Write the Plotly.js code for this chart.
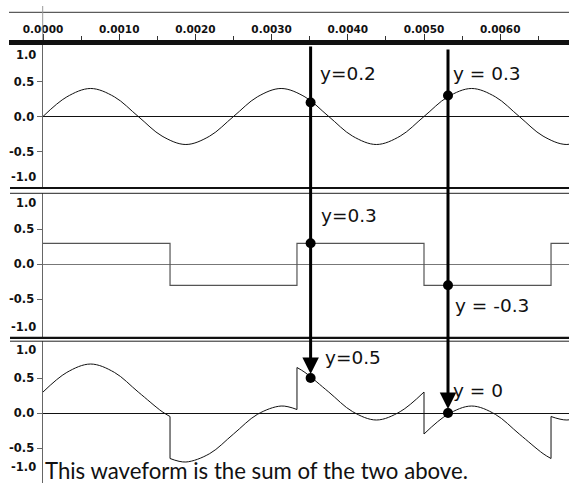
<!DOCTYPE html>
<html><head><meta charset="utf-8">
<script src="https://cdn.plot.ly/plotly-3.0.1.min.js"></script>
<style>html,body{margin:0;padding:0;background:#fff;}#chart{width:569px;height:483px;}</style>
</head><body><div id="chart"></div>
<script>
// ---------- data ----------
// top panel: sine wave (time in s, amplitude)
const sineT = [0, 0.0003125, 0.000625, 0.0009375, 0.00125, 0.0015625, 0.001875, 0.0021875,
  0.0025, 0.0028125, 0.003125, 0.0034375, 0.00375, 0.0040625, 0.004375, 0.0046875,
  0.005, 0.0053125, 0.005625, 0.0059375, 0.00625, 0.0065625, 0.006875, 0.0071875];
const sineY = [0, 0.28, 0.4, 0.28, 0, -0.28, -0.4, -0.28,
  0, 0.28, 0.4, 0.28, 0, -0.28, -0.4, -0.28,
  0, 0.28, 0.4, 0.28, 0, -0.28, -0.4, -0.28];
// middle panel: square wave (step points)
const squareT = [0, 0.001667, 0.003333, 0.005, 0.006667, 0.0072];
const squareY = [0.3, -0.3, 0.3, -0.3, 0.3, 0.3];
// bottom panel: sum, smooth pieces between the jumps
const sumT = [0, 0.0003125, 0.000625, 0.0009375, 0.00125, 0.0015625, 0.001667, null,
  0.001667, 0.001875, 0.0021875, 0.0025, 0.0028125, 0.003125, 0.003333, null,
  0.003333, 0.0034375, 0.00375, 0.0040625, 0.004375, 0.0046875, 0.005, null,
  0.005, 0.0053125, 0.005625, 0.0059375, 0.00625, 0.0065625, 0.006667, null,
  0.006667, 0.006875, 0.0071875];
const sumY = [0.3, 0.58, 0.7, 0.58, 0.3, 0.02, -0.05, null,
  -0.65, -0.7, -0.58, -0.3, -0.02, 0.1, 0.05, null,
  0.65, 0.58, 0.3, 0.02, -0.1, 0.02, 0.3, null,
  -0.3, -0.02, 0.1, -0.02, -0.3, -0.58, -0.65, null,
  -0.05, -0.1, -0.02];
// bottom panel: the jumps
const jumpT = [0.001667, 0.001667, null, 0.003333, 0.003333, null, 0.005, 0.005, null, 0.006667, 0.006667];
const jumpY = [-0.05, -0.65, null, 0.05, 0.65, null, 0.3, -0.3, null, -0.65, -0.05];
// probe points
const probeT = [0.003512, 0.005315];
const probeTop = [0.2, 0.3];
const probeMid = [0.3, -0.3];
const probeSum = [0.5, 0];
const probeTextTop = ['y=0.2', 'y = 0.3'];
const probeTextMid = ['y=0.3', 'y = -0.3'];
const probeTextSum = ['y=0.5', 'y = 0'];
// ticks
const xTickVals = [0, 0.001, 0.002, 0.003, 0.004, 0.005, 0.006];
const xTickText = ['0.0000', '0.0010', '0.0020', '0.0030', '0.0040', '0.0050', '0.0060'];
const yTickVals = [-0.5, 0, 0.5];
const yTickText = ['-0.5', '0.0', '0.5'];
const yEdgeText = ['1.0', '-1.0'];
const caption = 'This waveform is the sum of the two above.';

// ---------- layout helpers (pixels -> paper) ----------
const W = 569, H = 483, ML = 43, MT = 45;
const PW = W - ML, PH = H - MT;
const fx = p => (p - ML) / PW;
const fy = p => (H - p) / PH;

const xTickFont = {family: 'DejaVu Sans', size: 10.5, weight: 'bold', color: '#111'};
const tickFont = {family: 'DejaVu Sans', size: 11.5, weight: 'bold', color: '#111'};
const labFont = {family: 'DejaVu Sans', size: 18.5, color: '#111'};

const traces = [
  {x: sineT, y: sineY, xaxis: 'x', yaxis: 'y', mode: 'lines', line: {color: '#111', width: 1, shape: 'spline'}},
  {x: squareT, y: squareY, xaxis: 'x2', yaxis: 'y2', mode: 'lines', line: {color: '#555', width: 1.2, shape: 'hv'}},
  {x: sumT, y: sumY, xaxis: 'x3', yaxis: 'y3', mode: 'lines', connectgaps: false, line: {color: '#111', width: 1, shape: 'spline'}},
  {x: jumpT, y: jumpY, xaxis: 'x3', yaxis: 'y3', mode: 'lines', connectgaps: false, line: {color: '#111', width: 1}},
  {x: probeT, y: probeTop, xaxis: 'x', yaxis: 'y', mode: 'markers', marker: {color: '#000', size: 10}},
  {x: probeT, y: probeMid, xaxis: 'x2', yaxis: 'y2', mode: 'markers', marker: {color: '#000', size: 10}},
  {x: probeT, y: probeSum, xaxis: 'x3', yaxis: 'y3', mode: 'markers', marker: {color: '#000', size: 10}}
];

const xr = [0, (W - ML) / 76200];
const yBase = {
  showgrid: false, zeroline: true, zerolinecolor: '#111', zerolinewidth: 1,
  showline: true, linecolor: '#666', linewidth: 1.5,
  ticks: 'outside', ticklen: 5, tickcolor: '#666', tickwidth: 1,
  tickmode: 'array', tickvals: yTickVals, ticktext: yTickText, tickfont: tickFont
};
const xHidden = {range: xr, showgrid: false, zeroline: false, showline: false, showticklabels: false, ticks: ''};

const annotations = [];
// edge labels 1.0 / -1.0 for each panel
[[55, 177], [203, 327], [350, 467]].forEach(([t, b]) => {
  annotations.push({xref: 'paper', yref: 'paper', x: fx(38), y: fy(t), xanchor: 'right', yanchor: 'middle', text: yEdgeText[0], showarrow: false, font: tickFont});
  annotations.push({xref: 'paper', yref: 'paper', x: fx(38), y: fy(b), xanchor: 'right', yanchor: 'middle', text: yEdgeText[1], showarrow: false, font: tickFont});
});
// probe labels
const labPos = [
  [probeTextTop[0], 318, 73], [probeTextTop[1], 451, 73],
  [probeTextMid[0], 319, 215], [probeTextMid[1], 453, 305],
  [probeTextSum[0], 323, 357], [probeTextSum[1], 451, 390]
];
labPos.forEach(([txt, x, y]) => annotations.push({xref: 'paper', yref: 'paper', x: fx(x), y: fy(y), xanchor: 'left', yanchor: 'middle', text: txt, showarrow: false, font: labFont}));
// arrows
annotations.push({xref: 'x3', yref: 'y3', x: probeT[0], y: probeSum[0], ax: 0, ay: -333, text: '', showarrow: true, arrowhead: 2, arrowsize: 1.1, arrowwidth: 3, arrowcolor: '#000', standoff: 4});
annotations.push({xref: 'x3', yref: 'y3', x: probeT[1], y: probeSum[1], ax: 0, ay: -365, text: '', showarrow: true, arrowhead: 2, arrowsize: 1.1, arrowwidth: 3, arrowcolor: '#000', standoff: 4});
// caption
annotations.push({xref: 'paper', yref: 'paper', x: fx(42.5), y: fy(470), xanchor: 'left', yanchor: 'middle', text: caption, showarrow: false, font: {family: 'Lato', size: 22.2, color: '#111'}});

const hline = (y, w, c, x0) => ({type: 'line', xref: 'paper', yref: 'paper', x0: fx(x0), x1: fx(W), y0: fy(y), y1: fy(y), line: {color: c, width: w}});
const shapes = [
  hline(12.3, 1, '#333', 9),
  {type: 'rect', xref: 'paper', yref: 'paper', x0: fx(9), x1: fx(W), y0: fy(45), y1: fy(40), fillcolor: '#111', line: {width: 0}},
  hline(188, 2.2, '#111', 10),
  hline(193.3, 1, '#222', 10),
  hline(337.8, 2.2, '#111', 10),
  hline(341.2, 1, '#222', 10),
  {type: 'line', xref: 'paper', yref: 'paper', x0: fx(42.7), x1: fx(42.7), y0: fy(40), y1: fy(6), line: {color: '#999', width: 1}}
];

const layout = {
  width: W, height: H,
  margin: {l: ML, r: 0, t: MT, b: 0, pad: 0},
  paper_bgcolor: '#fff', plot_bgcolor: '#fff',
  showlegend: false,
  xaxis: {
    anchor: 'y', side: 'top', range: xr, showgrid: false, zeroline: false, showline: false,
    tickmode: 'array', tickvals: xTickVals, ticktext: xTickText,
    ticks: 'outside', ticklen: 10, tickwidth: 1, tickcolor: '#333', tickfont: xTickFont,
    ticklabelstandoff: -3,
    minor: {tickmode: 'linear', tick0: 0, dtick: 0.0005, ticks: 'outside', ticklen: 8, tickcolor: '#333', tickwidth: 1}
  },
  xaxis2: Object.assign({anchor: 'y2', matches: 'x'}, xHidden),
  xaxis3: Object.assign({anchor: 'y3', matches: 'x'}, xHidden),
  yaxis: Object.assign({}, yBase, {anchor: 'x', domain: [fy(187), 1], range: [-1.007, 1.021]}),
  yaxis2: Object.assign({}, yBase, {anchor: 'x2', domain: [fy(337), fy(193)], range: [-1.039, 1.019], zerolinecolor: '#777'}),
  yaxis3: Object.assign({}, yBase, {anchor: 'x3', domain: [0, fy(341)], range: [-1.0, 1.029]}),
  annotations: annotations,
  shapes: shapes
};

Plotly.newPlot('chart', traces, layout, {staticPlot: true, displayModeBar: false});
</script>
</body></html>
